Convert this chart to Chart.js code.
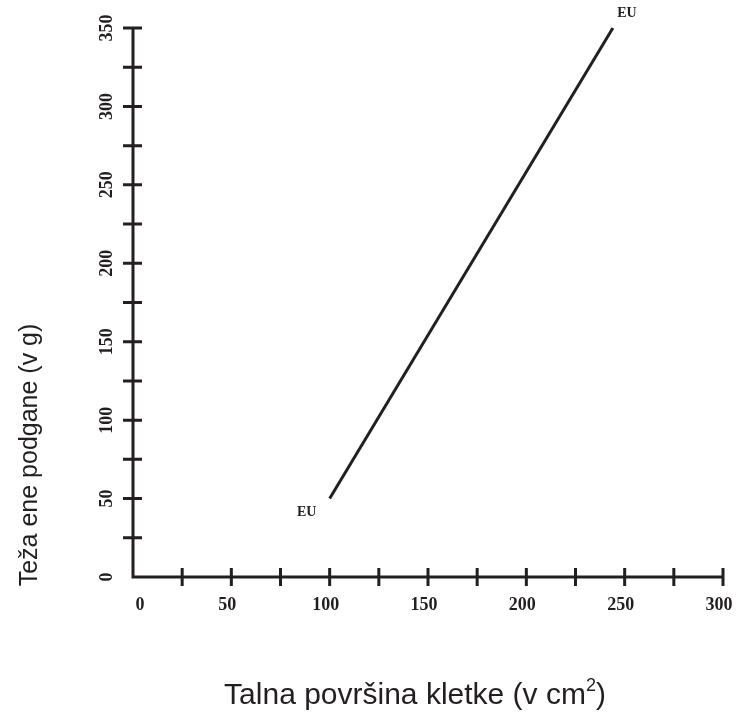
<!DOCTYPE html>
<html lang="sl">
  <head>
    <meta charset="UTF-8" />
    <script src="https://cdn.jsdelivr.net/npm/chart.js@4.4.0/dist/chart.umd.min.js"></script>
    <title>Talna površina kletke</title>
    <style>
      body { margin: 0; padding: 0; background: #fff; }
      .container { position: relative; width: 737px; height: 714px; }
    </style>
  </head>
  <body>
    <div class="container">
      <canvas id="chartEU"></canvas>
    </div>
    <script>
      // data
      const areaCm2 = [100, 244]
      const weightG = [50, 350]
      const pointLabels = ['EU', 'EU']
      const xLabelValues = [0, 50, 100, 150, 200, 250, 300]
      const yLabelValues = [0, 50, 100, 150, 200, 250, 300, 350]
      const xTitle = 'Talna površina kletke (v cm'
      const yTitle = 'Teža ene podgane (v g)'

      const ink = '#231f20'
      const tickFont = 'bold 18px "Liberation Serif", "Times New Roman", serif'
      const sans = '"Liberation Sans", Arial, sans-serif'

      const axesPlugin = {
        id: 'axesPlugin',
        afterDraw(chart) {
          const c = chart.ctx
          const xs = chart.scales.x
          const ys = chart.scales.y
          const area = chart.chartArea
          c.save()
          c.strokeStyle = ink
          c.fillStyle = ink
          c.lineWidth = 3

          // axis lines
          c.beginPath()
          c.moveTo(area.left, area.top)
          c.lineTo(area.left, area.bottom + 1.5)
          c.moveTo(area.left - 1.5, area.bottom)
          c.lineTo(area.right, area.bottom)
          c.stroke()

          // crossing tick marks
          c.beginPath()
          xs.ticks.forEach((t) => {
            if (t.value === 0) return
            const px = xs.getPixelForValue(t.value)
            c.moveTo(px, area.bottom - 9)
            c.lineTo(px, area.bottom + 9)
          })
          ys.ticks.forEach((t) => {
            if (t.value === 0) return
            const py = ys.getPixelForValue(t.value)
            c.moveTo(area.left - 10, py)
            c.lineTo(area.left + 9, py)
          })
          c.stroke()

          // tick labels
          c.font = tickFont
          c.textAlign = 'center'
          c.textBaseline = 'middle'
          xLabelValues.forEach((v) => {
            const px = Math.max(xs.getPixelForValue(v) - 4, area.left + 7)
            c.fillText(String(v), px, area.bottom + 28)
          })
          yLabelValues.forEach((v) => {
            const py = ys.getPixelForValue(v)
            c.save()
            c.translate(area.left - 26, py)
            c.rotate(-Math.PI / 2)
            c.fillText(String(v), 0, 0)
            c.restore()
          })

          // point labels
          c.font = 'bold 14px "Liberation Serif", "Times New Roman", serif'
          const meta = chart.getDatasetMeta(0)
          const offsets = [[-23, 14], [14, -15]]
          meta.data.forEach((pt, i) => {
            c.fillText(pointLabels[i], pt.x + offsets[i][0], pt.y + offsets[i][1])
          })

          // x title with superscript 2
          c.textBaseline = 'alphabetic'
          c.textAlign = 'left'
          c.font = '30px ' + sans
          const w1 = c.measureText(xTitle).width
          c.font = '18px ' + sans
          const w2 = c.measureText('2').width
          c.font = '30px ' + sans
          const w3 = c.measureText(')').width
          let tx = 415 - (w1 + w2 + w3) / 2
          c.fillText(xTitle, tx, 704)
          tx += w1
          c.font = '18px ' + sans
          c.fillText('2', tx, 691)
          tx += w2
          c.font = '30px ' + sans
          c.fillText(')', tx, 704)

          // y title
          c.save()
          c.textAlign = 'center'
          c.font = '25px ' + sans
          c.translate(37, 455)
          c.rotate(-Math.PI / 2)
          c.fillText(yTitle, 0, 0)
          c.restore()

          c.restore()
        },
      }

      new Chart(document.getElementById('chartEU'), {
        type: 'line',
        data: {
          datasets: [
            {
              data: areaCm2.map((x, i) => ({ x, y: weightG[i] })),
              borderColor: ink,
              borderWidth: 3,
              pointRadius: 0,
              clip: false,
              tension: 0,
            },
          ],
        },
        options: {
          responsive: true,
          maintainAspectRatio: false,
          animation: false,
          layout: { padding: { top: 28, right: 14, left: 0, bottom: 0 } },
          plugins: {
            legend: { display: false },
            tooltip: { enabled: false },
          },
          scales: {
            x: {
              type: 'linear',
              min: 0,
              max: 300,
              ticks: { display: false, stepSize: 25 },
              grid: { display: false },
              border: { display: false },
              afterFit: (s) => { s.height = 137 },
            },
            y: {
              type: 'linear',
              min: 0,
              max: 350,
              ticks: { display: false, stepSize: 25 },
              grid: { display: false },
              border: { display: false },
              afterFit: (s) => { s.width = 133 },
            },
          },
        },
        plugins: [axesPlugin],
      })
    </script>
  </body>
</html>
